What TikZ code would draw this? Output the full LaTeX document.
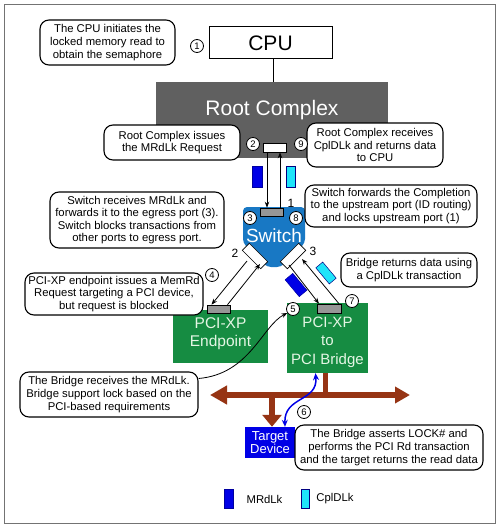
\documentclass[tikz,border=0pt]{standalone}
\usepackage{fontspec}
\setmainfont{Liberation Sans}
\usetikzlibrary{arrows.meta}
\definecolor{rcgray}{RGB}{96,96,96}
\definecolor{portgray}{RGB}{150,150,150}
\definecolor{swblue}{RGB}{24,120,196}
\definecolor{pcigreen}{RGB}{22,140,66}
\definecolor{busbrown}{RGB}{150,52,20}
\definecolor{mrd}{RGB}{0,0,230}
\definecolor{cpl}{RGB}{30,228,250}
\definecolor{greentext}{RGB}{228,246,228}
\begin{document}
\begin{tikzpicture}[x=1pt,y=-1pt,
  callout/.style={draw,line width=1.1pt,rounded corners=9pt,fill=white,align=center,inner sep=0pt,font=\fontsize{11.3}{12.6}\selectfont},
  num/.style={circle,draw,line width=0.8pt,fill=white,inner sep=0pt,minimum size=13pt,font=\fontsize{9.5}{9.5}\selectfont},
  port/.style={draw,line width=0.6pt,fill=portgray,inner sep=0pt,minimum width=23pt,minimum height=8pt},
  wport/.style={draw,line width=0.6pt,fill=white,inner sep=0pt,minimum width=26pt,minimum height=10pt},
  flow/.style={line width=0.8pt,-{Stealth[length=6pt,width=4.5pt]}},
  pkt/.style={inner sep=0pt,line width=0.5pt},
  mrdpkt/.style={pkt,fill=mrd,draw=mrd!70!black},
  cplpkt/.style={pkt,fill=cpl,draw=blue!50!black},
  greenbox/.style={fill=pcigreen,inner sep=0pt},
  greenlbl/.style={inner sep=0pt,align=center,text=greentext},
  portlbl/.style={inner sep=0pt,font=\fontsize{12}{12}\selectfont},
  bus/.style={draw=busbrown,line width=6pt}
]
\useasboundingbox (0,0) rectangle (500,527);
\draw[line width=0.8pt,draw=black!55] (4,4) rectangle (495,523);

% CPU and root complex
\node (cpu) [draw,line width=1pt,fill=white,minimum width=123pt,minimum height=32pt,inner sep=0pt,font=\fontsize{21}{21}\selectfont] at (270.5,43) {CPU};
\node (rc) [fill=rcgray,minimum width=232pt,minimum height=76pt,inner sep=0pt] at (272,120) {};
\node (rctext) [text=white,inner sep=0pt,font=\fontsize{21}{21}\selectfont] at ([yshift=10pt]rc.center) {Root Complex};
\draw[line width=1pt] ([xshift=2.5pt]cpu.south) -- ([xshift=2.5pt]cpu.south |- rc.north);
\node (rport) [wport,minimum width=23pt,minimum height=9pt] at (274.5,147.5) {};

% Switch
\fill[swblue,rounded corners=4pt] (243,207) -- (305,207) -- (305,243) -- (281,267) -- (267,267) -- (243,243) -- cycle;
\node (sw) [text=white,inner sep=0pt,font=\fontsize{19}{19}\selectfont] at (274,236) {Switch};
\node (swport) [port] at (271.5,212) {};
\node (swl) [wport,rotate=-45] at (255,256) {};
\node (swr) [wport,rotate=45] at (293,256) {};

% packets
\node (p1) [mrdpkt,minimum width=10pt,minimum height=21pt] at (257,176.5) {};
\node (p2) [cplpkt,minimum width=9pt,minimum height=21pt] at (290.5,176.5) {};
\node (p3) [mrdpkt,minimum width=22pt,minimum height=10pt,rotate=-50] at (296,285) {};
\node (p4) [cplpkt,minimum width=21pt,minimum height=9pt,rotate=-50] at (326,273) {};

% arrows root <-> switch
\draw[flow] ([xshift=-7.5pt]rport.south) -- ([xshift=-4.5pt]swport.north);
\draw[flow] ([xshift=8.5pt]swport.north) -- ([xshift=5.5pt]rport.south);

% endpoint and bridge
\node (ep) [greenbox,minimum width=95pt,minimum height=53pt] at (220.5,336.5) {};
\node (eptext) [greenlbl,font=\fontsize{15.5}{18}\selectfont] at ([yshift=3pt]ep.center) {PCI-XP\\Endpoint};
\node (br) [greenbox,minimum width=81pt,minimum height=70pt] at (327.5,338) {};
\node (brtext) [greenlbl,font=\fontsize{15}{18.5}\selectfont] at ([yshift=-4pt]br.center) {PCI-XP\\to\\PCI Bridge};
\node (epport) [port] at (218.5,309) {};
\node (brport) [port,minimum width=24pt,minimum height=9pt] at (329,308.5) {};

\coordinate (swlo) at (247,261);
\coordinate (swli) at (260,264);
\coordinate (swri) at (289,265);
\coordinate (swro) at (302,259);
\draw[flow] (swlo) -- ([xshift=-7pt]epport.north);
\draw[flow] ([xshift=9pt]epport.north) -- (swli);
\draw[flow] (swri) -- ([xshift=-10pt]brport.north);
\draw[flow] ([xshift=10pt]brport.north) -- (swro);

% bus
\coordinate (busL) at (210,395);
\coordinate (busR) at (410,395);
\node (tgt) [fill=mrd,minimum width=50pt,minimum height=31pt,inner sep=0pt,align=center,text=white,font=\fontsize{13}{13}\selectfont] at (270,442.5) {Target\\Device};
\draw[draw=busbrown,line width=5pt] ([xshift=-2.5pt]br.south) -- ([xshift=-2.5pt]br.south |- busL);
\draw[bus,{Triangle[length=17pt,width=18pt]}-{Triangle[length=15pt,width=16pt]}] (busL) -- (busR);
\draw[bus,-{Triangle[length=12pt,width=19pt]}] ([xshift=2pt]tgt.north |- busL) -- ([xshift=2pt]tgt.north);
\draw[draw=mrd,line width=1.5pt,{Stealth[length=7pt,width=6pt]}-{Stealth[length=7pt,width=6pt]}] ([xshift=-12pt]br.south) .. controls (318,402) and (284,396) .. ([xshift=15pt]tgt.north);

% callouts
\node (c1) [callout,minimum width=135pt,minimum height=45pt] at (107.5,42.5) {The CPU initiates the\\locked memory read to\\obtain the semaphore};
\node (c2) [callout,minimum width=136pt,minimum height=35pt] at (172,142.5) {Root Complex issues\\the MRdLk Request};
\node (c3) [callout,minimum width=136pt,minimum height=44pt] at (375,145) {Root Complex receives\\CplDLk and returns data\\to CPU};
\node (c4) [callout,minimum width=174pt,minimum height=56pt] at (137,220) {Switch receives MRdLk and\\forwards it to the egress port (3).\\Switch blocks transactions from\\other ports to egress port.};
\node (c5) [callout,minimum width=172pt,minimum height=42pt] at (391,206) {Switch forwards the Completion\\to the upstream port (ID routing)\\and locks upstream port (1)};
\node (c6) [callout,minimum width=136pt,minimum height=34pt] at (409,270) {Bridge returns data using\\a CplDLk transaction};
\node (c7) [callout,minimum width=178pt,minimum height=42pt] at (114,294) {PCI-XP endpoint issues a MemRd\\Request targeting a PCI device,\\but request is blocked};
\node (c8) [callout,minimum width=178pt,minimum height=45pt] at (109,394.5) {The Bridge receives the MRdLk.\\Bridge support lock based on the\\PCI-based requirements};
\node (c9) [callout,minimum width=188pt,minimum height=45pt] at (389,447.5) {The Bridge asserts LOCK\# and\\performs the PCI Rd transaction\\and the target returns the read data};

% numbers
\node (n1) [num] at (197,46) {1};
\node (n2) [num] at (253,144) {2};
\node (n9) [num] at (301,144) {9};
\node (n3) [num] at (250,218) {3};
\node (n8) [num] at (296,218) {8};
\node (n4) [num] at (212,275) {4};
\node (n5) [num] at (293,309) {5};
\node (n7) [num] at (352,301) {7};
\node (n6) [num] at (304,412) {6};

\node (l1) [portlbl] at (291,203) {1};
\node (l2) [portlbl] at (235,253) {2};
\node (l3) [portlbl] at (313,251) {3};

\draw[line width=0.8pt,-{Stealth[length=6pt,width=4.5pt]}] ([yshift=16pt]c8.east) .. controls (250,374) and (262,326) .. (n5.215);

% legend
\node (lg1) [mrdpkt,minimum width=9pt,minimum height=19pt] at (228.5,498.5) {};
\node (lg1t) [inner sep=0pt,font=\fontsize{11.3}{11.3}\selectfont] at (264.5,499) {MRdLk};
\node (lg2) [cplpkt,minimum width=8pt,minimum height=19pt] at (305.5,499) {};
\node (lg2t) [inner sep=0pt,font=\fontsize{11.3}{11.3}\selectfont] at (335,499) {CplDLk};
\end{tikzpicture}
\end{document}
